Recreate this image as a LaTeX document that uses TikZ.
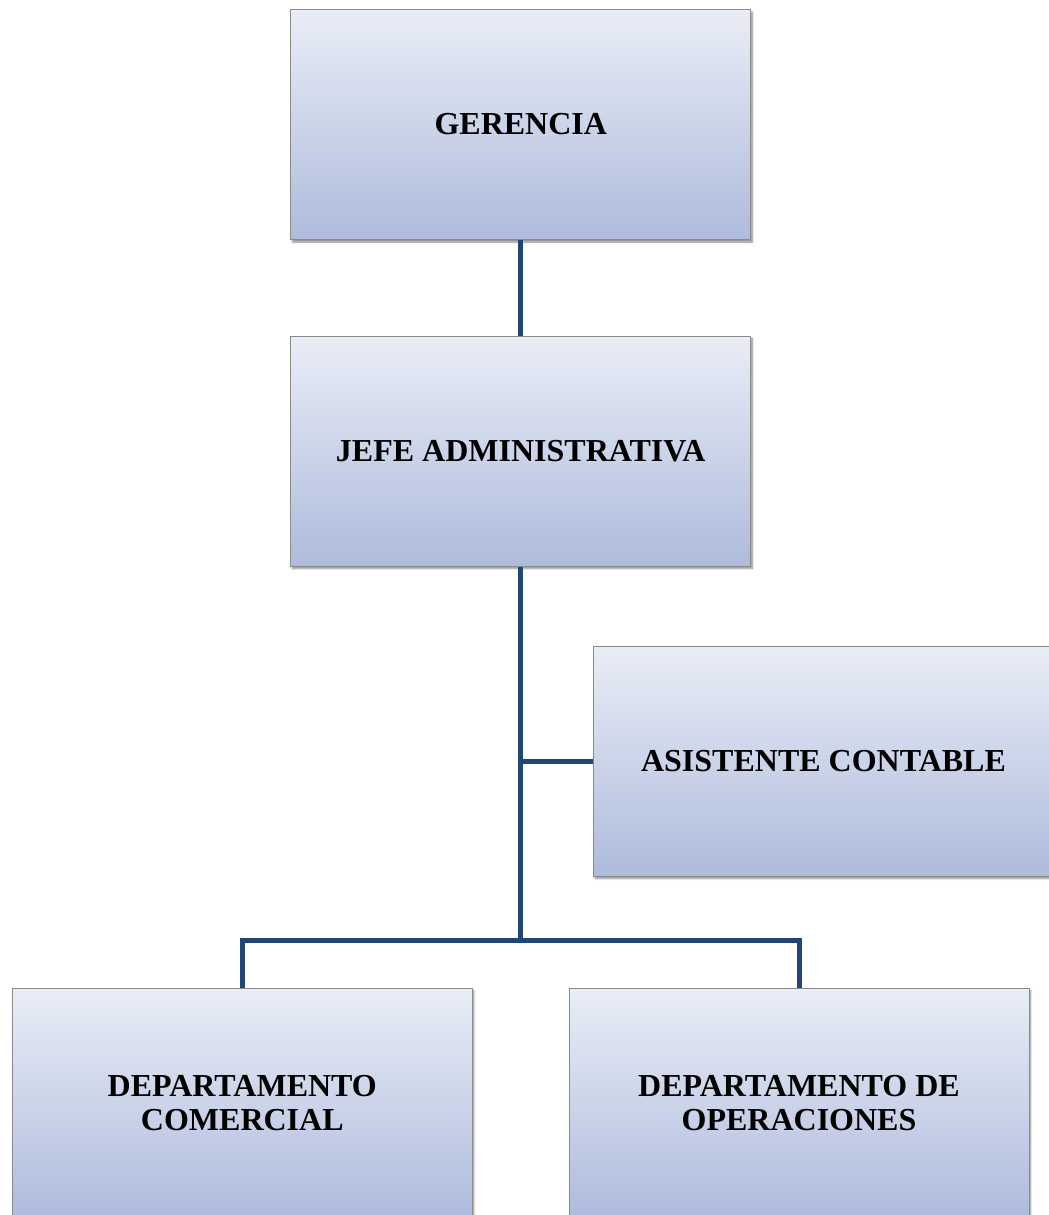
\documentclass[tikz,border=0pt]{standalone}
\usepackage{fontspec}
\setmainfont{Liberation Serif}
\usetikzlibrary{shadows.blur}
\definecolor{boxtop}{HTML}{E9EDF6}
\definecolor{boxbot}{HTML}{AEBBDC}
\definecolor{boxedge}{HTML}{8A8A8A}
\definecolor{linkblue}{HTML}{1F4676}
\tikzset{
  orgbox/.style={draw=boxedge, line width=1pt, top color=boxtop, bottom color=boxbot,
    minimum width=460pt, minimum height=230pt, inner sep=0pt, align=center,
    font=\fontsize{32}{33.5}\selectfont\bfseries,
    blur shadow={shadow xshift=1.5pt, shadow yshift=-2.5pt, shadow blur steps=6, shadow opacity=45}},
  link/.style={draw=linkblue, line width=5pt}
}
\begin{document}
\begin{tikzpicture}[x=1pt,y=-1pt]
\useasboundingbox (0,0) rectangle (1049,1215);
\clip (0,0) rectangle (1049,1215);
\node[orgbox] (g) at (520.75,124.5) {GERENCIA};
\node[orgbox] (j) at (520.75,451) {JEFE ADMINISTRATIVA};
\node[orgbox] (a) at (823.5,761) {ASISTENTE CONTABLE};
\node[orgbox] (dc) at (242.3,1103) {DEPARTAMENTO\\COMERCIAL};
\node[orgbox] (do) at (799,1103) {DEPARTAMENTO DE\\OPERACIONES};
\coordinate (bus) at (520.75,940);
\draw[link] (g.south) -- (j.north);
\draw[link] (j.south) -- (bus);
\draw[link] (a.west) -- (a.west -| j.south);
\draw[link] (dc.north) |- (bus) -| (do.north);
\end{tikzpicture}
\end{document}
